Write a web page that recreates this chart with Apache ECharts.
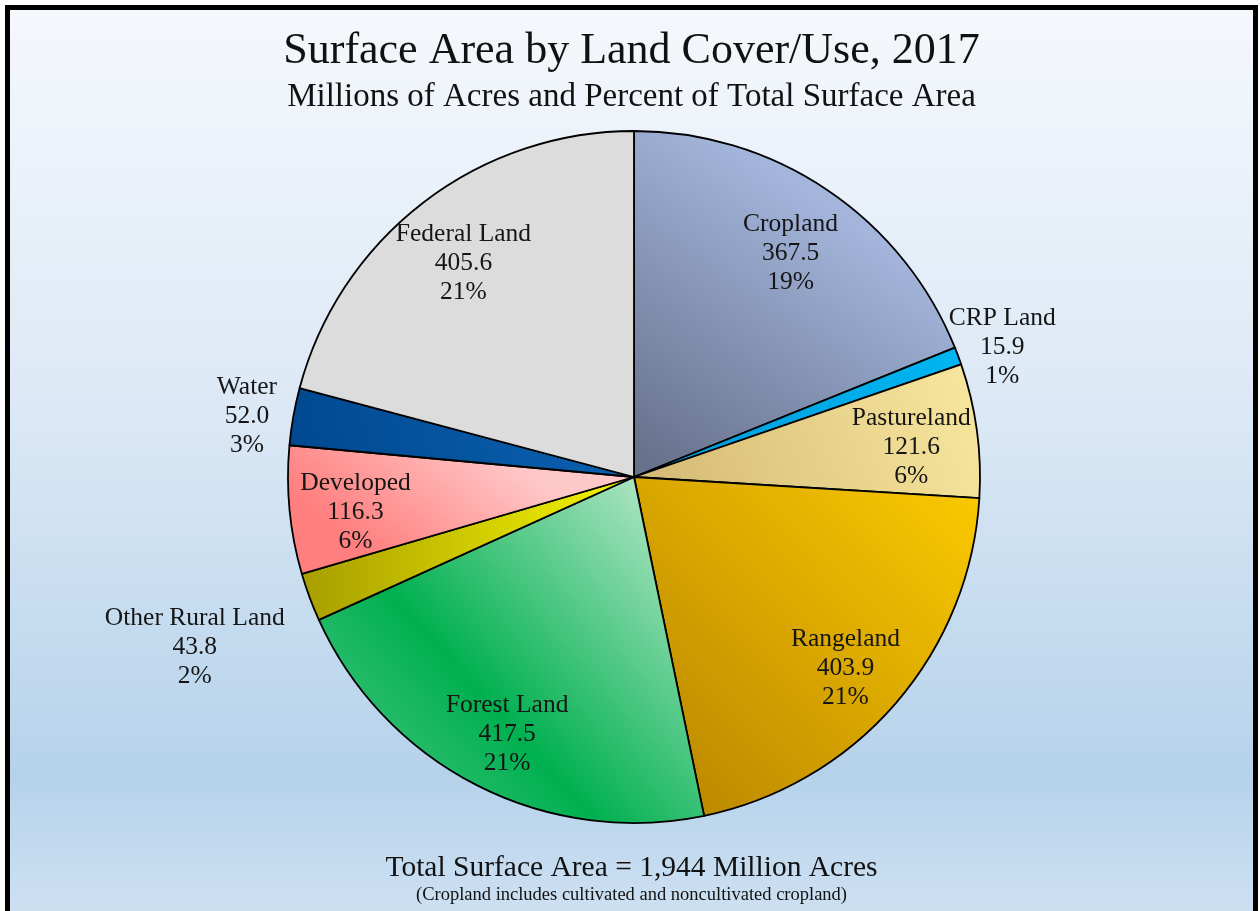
<!DOCTYPE html>
<html>
<head>
<meta charset="utf-8">
<script src="https://cdn.jsdelivr.net/npm/echarts@6/dist/echarts.min.js"></script>
<style>
  html, body { margin: 0; padding: 0; background: #ffffff; width: 1260px; height: 911px; overflow: hidden; }
  #frame { position: absolute; left: 5px; top: 5px; width: 1243px; height: 920px;
           border: 5px solid #000; border-bottom: none; }
  #chart { width: 1243px; height: 901px; }
</style>
</head>
<body>
<div id="frame"><div id="chart"></div></div>
<script>
// ---- data ----
const categories = ['Cropland', 'CRP Land', 'Pastureland', 'Rangeland', 'Forest Land',
                    'Other Rural Land', 'Developed', 'Water', 'Federal Land'];
const acres = [367.5, 15.9, 121.6, 403.9, 417.5, 43.8, 116.3, 52.0, 405.6];
const titleText = 'Surface Area by Land Cover/Use, 2017';
const subtitleText = 'Millions of Acres and Percent of Total Surface Area';
const noteText = '(Cropland includes cultivated and noncultivated cropland)';

// ---- styling ----
const FONT = 'Liberation Serif';
function lg(x, y, x2, y2, stops) {
  return { type: 'linear', x: x, y: y, x2: x2, y2: y2,
           colorStops: stops.map(s => ({ offset: s[0], color: s[1] })) };
}
const fills = {
  'Cropland': lg(0.1, 1, 0.65, 0.25, [[0, '#66718b'], [1, '#a3b5db']]),
  'CRP Land': lg(1, 0, 0, 1, [[0, '#00b6f2'], [1, '#0099d8']]),
  'Pastureland': lg(1, 0, 0, 1, [[0, '#f9e8a0'], [1, '#d3b872']]),
  'Rangeland': lg(1, 0, 0, 1, [[0, '#fccb00'], [1, '#b68200']]),
  'Forest Land': lg(1, 0, 0, 1, [[0, '#cdeed7'], [0.6, '#00b050'], [1, '#55c98a']]),
  'Other Rural Land': lg(1, 0, 0, 0, [[0, '#f6f600'], [1, '#a79e00']]),
  'Developed': lg(0.6, 0, 0.3, 1, [[0, '#ffc8c8'], [1, '#ff7e7e']]),
  'Water': lg(1, 0, 0, 1, [[0, '#0c62b2'], [1, '#00488f']]),
  'Federal Land': '#dcdcdc'
};
// which ring each label sits on: 'in' = inside the slice, 'near'/'far' = outside
const labelRing = {
  'Cropland': 'in', 'CRP Land': 'near', 'Pastureland': 'in', 'Rangeland': 'in',
  'Forest Land': 'in', 'Other Rural Land': 'far', 'Developed': 'in', 'Water': 'near',
  'Federal Land': 'in'
};

const CX = 624, CY = 467, R = 346;
const total = acres.reduce((a, b) => a + b, 0);

const labelStyle = {
  position: 'inside',
  fontFamily: FONT, fontSize: 25.5, lineHeight: 29, color: '#151515',
  align: 'center', offset: [0, 8],
  formatter: p => p.name + '\n' + p.value.toFixed(1) + '\n' + p.percent + '%'
};

function labelSeries(ring, radius) {
  return {
    type: 'pie', center: [CX, CY], radius: radius, startAngle: 90, clockwise: true,
    silent: true, avoidLabelOverlap: false, percentPrecision: 0, z: 5,
    itemStyle: { color: 'rgba(0,0,0,0)', borderWidth: 0 },
    emphasis: { disabled: true },
    labelLine: { show: false },
    label: labelStyle,
    data: categories.map((c, i) => ({
      name: c, value: acres[i],
      label: { show: labelRing[c] === ring }
    }))
  };
}

const chart = echarts.init(document.getElementById('chart'));
chart.setOption({
  animation: false,
  backgroundColor: lg(0, 0, 0, 1, [[0, '#f5f8fc'], [0.45, '#dbe8f5'], [0.85, '#b5d2eb'], [1, '#cde0f2']]),
  title: [
    { text: titleText, left: 'center', top: 14,
      textStyle: { fontFamily: FONT, fontSize: 44, fontWeight: 'normal', color: '#111' } },
    { text: subtitleText, left: 'center', top: 66,
      textStyle: { fontFamily: FONT, fontSize: 33, fontWeight: 'normal', color: '#111' } },
    { text: 'Total Surface Area = ' + Math.round(total).toLocaleString('en-US') + ' Million Acres',
      left: 'center', top: 838,
      textStyle: { fontFamily: FONT, fontSize: 29.5, fontWeight: 'normal', color: '#111' } },
    { text: noteText, left: 'center', top: 871,
      textStyle: { fontFamily: FONT, fontSize: 18.5, fontWeight: 'normal', color: '#111' } }
  ],
  series: [
    {
      type: 'pie', center: [CX, CY], radius: [0, R], startAngle: 90, clockwise: true,
      avoidLabelOverlap: false, silent: true, z: 2,
      label: { show: false }, labelLine: { show: false },
      emphasis: { disabled: true },
      itemStyle: { borderColor: '#000', borderWidth: 1.8 },
      data: categories.map((c, i) => ({ name: c, value: acres[i], itemStyle: { color: fills[c] } }))
    },
    labelSeries('in', [R * 0.6, R]),
    labelSeries('near', [R, R * 1.255]),
    labelSeries('far', [R, R * 1.69])
  ]
});
</script>
</body>
</html>
